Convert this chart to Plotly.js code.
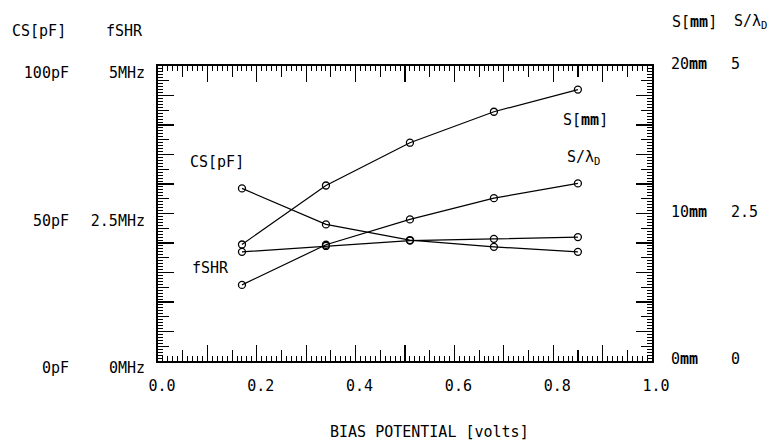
<!DOCTYPE html>
<html>
<head>
<meta charset="utf-8">
<script src="https://cdn.plot.ly/plotly-3.0.1.min.js"></script>
<style>
  html, body { margin: 0; padding: 0; background: #fff; }
  #chart { width: 774px; height: 441px; }
</style>
</head>
<body>
<div id="chart"></div>
<script>
// ---- data ----
const biasVolts   = [0.17, 0.34, 0.51, 0.68, 0.85];
const csPF        = [58.5, 46.3, 41.0, 38.7, 37.0];
const fshrMHz     = [1.85, 1.95, 2.04, 2.07, 2.10];
const sMM         = [7.9, 11.9, 14.8, 16.9, 18.4];
const sOverLambda = [1.29, 1.97, 2.40, 2.76, 3.01];

// ---- tick labels ----
const xLabelVals  = [0.0, 0.2, 0.4, 0.6, 0.8, 1.0];
const xLabelText  = ['0.0', '0.2', '0.4', '0.6', '0.8', '1.0'];
const csTickVals  = [0, 50, 100];
const csTickText  = ['0pF', '50pF', '100pF'];
const fTickVals   = [0, 2.5, 5];
const fTickText   = ['0MHz', '2.5MHz', '5MHz'];
const sTickVals   = [0, 10, 20];
const sTickText   = ['0<b>mm</b>', '10<b>mm</b>', '20<b>mm</b>'];
const rTickVals   = [0, 2.5, 5];
const rTickText   = ['0', '2.5', '5'];

// ---- layout helpers ----
const W = 774, H = 441;
const M = { l: 158, r: 122, t: 66, b: 80 };
const PW = W - M.l - M.r, PH = H - M.t - M.b;
const px = x => (x - M.l) / PW;
const py = y => (H - M.b - y) / PH;

const FONT = { family: 'DejaVu Sans Mono, monospace', size: 15, color: '#000' };

const line = { color: '#000', width: 1.2 };
const marker = { symbol: 'circle-open', size: 7, color: '#000', line: { width: 1.3, color: '#000' } };
function tr(y, yax, name) {
  return { x: biasVolts, y: y, xaxis: 'x', yaxis: yax, name: name,
           mode: 'lines+markers', line: line, marker: marker, hoverinfo: 'skip' };
}
// empty helper traces so that the tick-only / label-only overlay axes are drawn
function holder(xax, yax) {
  return { x: [], y: [], xaxis: xax, yaxis: yax, mode: 'markers', hoverinfo: 'skip', showlegend: false };
}
const data = [
  tr(csPF, 'y', 'CS[pF]'),
  tr(fshrMHz, 'y2', 'fSHR'),
  tr(sMM, 'y4', 'S[mm]'),
  tr(sOverLambda, 'y5', 'S/λD'),
  holder('x2', 'y'),
  holder('x3', 'y'),
  holder('x', 'y3'),
  holder('x', 'y6')
];

const noAx = { showline: false, showgrid: false, zeroline: false };

const layout = {
  width: W, height: H,
  margin: M,
  paper_bgcolor: '#fff', plot_bgcolor: '#fff',
  showlegend: false,
  font: FONT,
  // long ticks every 0.1 + short ticks every 0.01
  xaxis: {
    range: [0, 1], tickmode: 'linear', tick0: 0, dtick: 0.1,
    ticks: 'inside', ticklen: 16, tickwidth: 1.3, tickcolor: '#000',
    minor: { tickmode: 'linear', tick0: 0, dtick: 0.01, ticks: 'inside', ticklen: 5, tickwidth: 1, tickcolor: '#000', showgrid: false },
    showline: true, linewidth: 2, linecolor: '#000', mirror: 'ticks',
    showgrid: false, zeroline: false, showticklabels: false
  },
  // medium ticks every 0.05
  xaxis2: Object.assign({
    overlaying: 'x', anchor: 'y', range: [0, 1], tickmode: 'linear', tick0: 0, dtick: 0.05,
    ticks: 'inside', ticklen: 11, tickwidth: 1.2, tickcolor: '#000', mirror: 'ticks',
    showticklabels: false
  }, noAx),
  // labels every 0.2
  xaxis3: Object.assign({
    overlaying: 'x', anchor: 'y', side: 'bottom', range: [0, 1],
    tickmode: 'array', tickvals: xLabelVals, ticktext: xLabelText, ticks: '',
    ticklabelstandoff: 14, ticklabelshift: 4, tickfont: FONT
  }, noAx),
  // CS axis: long ticks every 10 pF, short ticks every 1 pF
  yaxis: {
    range: [0, 100], tickmode: 'linear', tick0: 0, dtick: 10,
    ticks: 'inside', ticklen: 16, tickwidth: 1.3, tickcolor: '#000',
    minor: { tickmode: 'linear', tick0: 0, dtick: 1, ticks: 'inside', ticklen: 5, tickwidth: 1, tickcolor: '#000', showgrid: false },
    showline: true, linewidth: 2, linecolor: '#000', mirror: 'ticks',
    showgrid: false, zeroline: false, showticklabels: false
  },
  yaxis2: Object.assign({
    overlaying: 'y', anchor: 'x', side: 'left', range: [0, 5],
    tickmode: 'array', tickvals: fTickVals, ticktext: fTickText, ticks: '',
    ticklabelstandoff: 12, ticklabelshift: 7, tickfont: FONT
  }, noAx),
  // medium ticks every 5 pF
  yaxis3: Object.assign({
    overlaying: 'y', anchor: 'x', side: 'left', range: [0, 100], tickmode: 'linear', tick0: 0, dtick: 5,
    ticks: 'inside', ticklen: 11, tickwidth: 1.2, tickcolor: '#000', mirror: 'ticks',
    showticklabels: false
  }, noAx),
  yaxis4: Object.assign({
    overlaying: 'y', anchor: 'x', side: 'right', range: [0, 20],
    tickmode: 'array', tickvals: sTickVals, ticktext: sTickText, ticks: '',
    ticklabelstandoff: 18, ticklabelshift: -2, tickfont: FONT
  }, noAx),
  yaxis5: Object.assign({
    overlaying: 'y', anchor: 'x', side: 'right', range: [0, 5],
    tickmode: 'array', tickvals: rTickVals, ticktext: rTickText, ticks: '',
    ticklabelstandoff: 78, ticklabelshift: -2, tickfont: FONT
  }, noAx),
  // CS labels (0pF / 50pF / 100pF)
  yaxis6: Object.assign({
    overlaying: 'y', anchor: 'x', side: 'left', range: [0, 100],
    tickmode: 'array', tickvals: csTickVals, ticktext: csTickText, ticks: '',
    ticklabelstandoff: 88, ticklabelshift: 7, tickfont: FONT
  }, noAx),
  annotations: [
    { text: 'CS[pF]', x: px(39), y: py(31) },
    { text: 'fSHR', x: px(124), y: py(31) },
    { text: 'S[<b>mm</b>]', x: px(694), y: py(22) },
    { text: 'S/λ<sub>D</sub>', x: px(750), y: py(22) },
    { text: 'CS[pF]', x: px(217), y: py(162) },
    { text: 'fSHR', x: px(210), y: py(268) },
    { text: 'S[<b>mm</b>]', x: px(585), y: py(120) },
    { text: 'S/λ<sub>D</sub>', x: px(583), y: py(157) },
    { text: 'BIAS POTENTIAL [volts]', x: px(429), y: py(432) }
  ].map(a => Object.assign({ xref: 'paper', yref: 'paper', showarrow: false,
                             xanchor: 'center', yanchor: 'middle', font: FONT }, a))
};

Plotly.newPlot('chart', data, layout, { displayModeBar: false, staticPlot: true });
</script>
</body>
</html>
